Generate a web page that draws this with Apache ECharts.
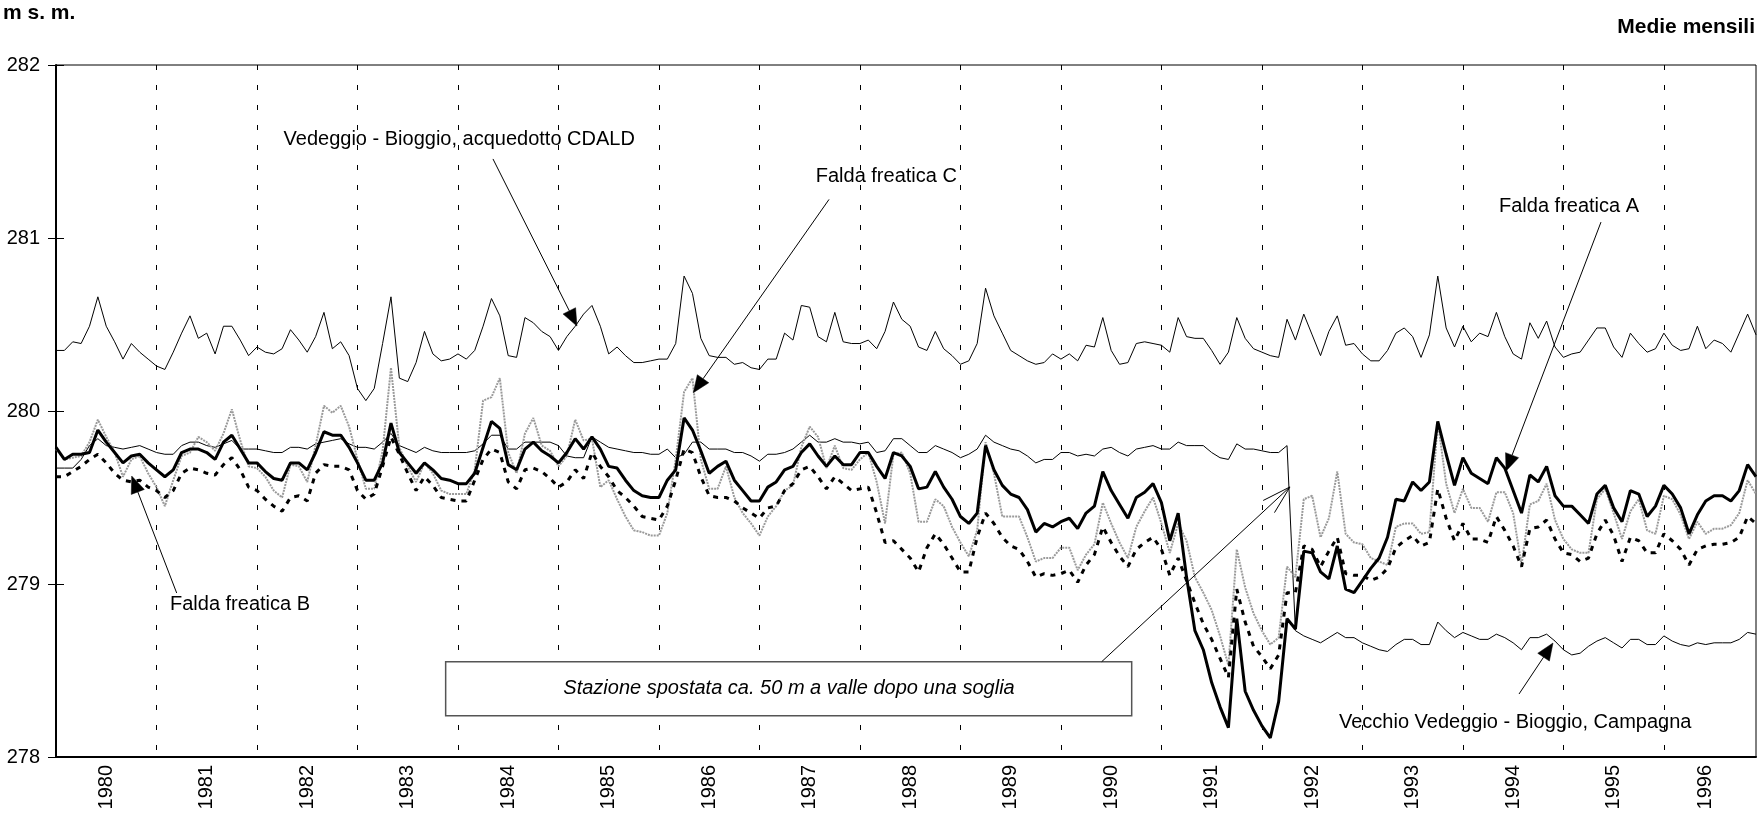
<!DOCTYPE html>
<html>
<head>
<meta charset="utf-8">
<script src="https://cdn.jsdelivr.net/npm/echarts@6/dist/echarts.min.js"></script>
<style>
html,body{margin:0;padding:0;background:#fff;}
#chart{width:1757px;height:822px;}
</style>
</head>
<body>
<div id="chart"></div>
<script>
// ---------- DATA ----------
const years = [1980,1981,1982,1983,1984,1985,1986,1987,1988,1989,1990,1991,1992,1993,1994,1995,1996];
const yTicks = [278, 279, 280, 281, 282];
const months = [];
years.forEach(y => { for (let m = 1; m <= 12; m++) months.push(y + '-' + (m < 10 ? '0' + m : m)); });

// Vedeggio - Bioggio, acquedotto CDALD (monthly means, m s. m.)
const vedeggioCDALD = [
280.35,280.35,280.40,280.39,280.49,280.66,280.49,280.40,280.30,280.39,280.34,280.30,
280.26,280.24,280.34,280.45,280.55,280.42,280.45,280.33,280.49,280.49,280.41,280.32,
280.37,280.34,280.33,280.36,280.47,280.41,280.34,280.43,280.57,280.36,280.40,280.32,
280.13,280.06,280.13,280.39,280.66,280.19,280.17,280.28,280.46,280.33,280.29,280.30,
280.33,280.30,280.35,280.49,280.65,280.55,280.32,280.31,280.54,280.51,280.46,280.43,
280.35,280.43,280.49,280.56,280.61,280.49,280.33,280.37,280.32,280.28,280.28,280.29,
280.30,280.30,280.39,280.78,280.68,280.42,280.32,280.31,280.31,280.27,280.28,280.25,
280.24,280.30,280.30,280.45,280.41,280.61,280.60,280.43,280.40,280.57,280.40,280.39,
280.39,280.41,280.36,280.46,280.63,280.53,280.49,280.37,280.35,280.46,280.36,280.32,
280.27,280.29,280.39,280.71,280.55,280.45,280.35,280.32,280.29,280.27,280.28,280.33,
280.30,280.33,280.29,280.38,280.37,280.54,280.35,280.27,280.28,280.39,280.40,280.39,
280.38,280.34,280.54,280.43,280.42,280.42,280.35,280.27,280.34,280.54,280.42,280.36,
280.34,280.32,280.31,280.53,280.41,280.56,280.44,280.32,280.46,280.55,280.38,280.39,
280.33,280.29,280.29,280.35,280.45,280.48,280.43,280.31,280.44,280.78,280.48,280.37,
280.49,280.40,280.45,280.43,280.57,280.43,280.33,280.30,280.51,280.42,280.52,280.37,
280.31,280.33,280.34,280.41,280.48,280.48,280.37,280.31,280.45,280.39,280.34,280.36,
280.45,280.38,280.35,280.36,280.49,280.36,280.41,280.39,280.34,280.45,280.56,280.44
];

// Vecchio Vedeggio - Bioggio, Campagna
const vecchioCampagna = [
279.67,279.67,279.67,279.72,279.80,279.84,279.80,279.79,279.78,279.79,279.80,279.78,
279.76,279.75,279.75,279.80,279.82,279.82,279.80,279.79,279.81,279.83,279.78,279.78,
279.78,279.77,279.76,279.76,279.79,279.79,279.78,279.81,279.82,279.83,279.84,279.81,
279.79,279.79,279.78,279.82,279.87,279.80,279.78,279.76,279.79,279.77,279.76,279.76,
279.76,279.76,279.77,279.81,279.86,279.86,279.78,279.78,279.82,279.82,279.82,279.82,
279.80,279.74,279.73,279.73,279.85,279.82,279.79,279.78,279.77,279.76,279.76,279.75,
279.75,279.78,279.73,279.75,279.82,279.82,279.78,279.78,279.78,279.76,279.76,279.74,
279.71,279.75,279.75,279.76,279.78,279.82,279.86,279.82,279.82,279.84,279.82,279.82,
279.81,279.82,279.76,279.77,279.84,279.84,279.80,279.76,279.76,279.80,279.78,279.76,
279.73,279.75,279.78,279.86,279.82,279.80,279.78,279.77,279.74,279.70,279.72,279.72,
279.76,279.76,279.74,279.75,279.74,279.78,279.79,279.76,279.74,279.78,279.79,279.80,
279.78,279.78,279.82,279.80,279.80,279.80,279.76,279.73,279.72,279.81,279.78,279.78,
279.77,279.76,279.76,279.80,278.73,278.70,278.68,278.66,278.69,278.72,278.69,278.69,
278.66,278.64,278.62,278.61,278.65,278.68,278.68,278.65,278.65,278.78,278.73,278.69,
278.72,278.70,278.68,278.68,278.71,278.69,278.66,278.62,278.69,278.69,278.71,278.67,
278.62,278.59,278.60,278.64,278.67,278.69,278.66,278.63,278.68,278.68,278.65,278.65,
278.70,278.67,278.65,278.64,278.66,278.65,278.66,278.66,278.66,278.68,278.72,278.71
];

// Falda freatica A
const faldaA = [
279.79,279.72,279.75,279.75,279.76,279.89,279.82,279.76,279.70,279.74,279.75,279.70,
279.66,279.62,279.66,279.76,279.78,279.78,279.76,279.72,279.82,279.86,279.78,279.70,
279.70,279.65,279.61,279.60,279.70,279.70,279.66,279.76,279.88,279.86,279.86,279.79,
279.70,279.60,279.60,279.70,279.93,279.76,279.70,279.64,279.70,279.66,279.61,279.60,
279.58,279.58,279.64,279.79,279.94,279.90,279.69,279.66,279.78,279.82,279.77,279.74,
279.70,279.76,279.84,279.78,279.85,279.78,279.68,279.67,279.60,279.54,279.51,279.50,
279.50,279.60,279.66,279.96,279.89,279.77,279.64,279.68,279.71,279.60,279.54,279.48,
279.48,279.56,279.59,279.66,279.68,279.76,279.81,279.74,279.68,279.74,279.69,279.69,
279.76,279.76,279.68,279.61,279.76,279.74,279.68,279.55,279.56,279.65,279.56,279.49,
279.39,279.35,279.41,279.80,279.66,279.57,279.52,279.50,279.43,279.30,279.35,279.33,
279.36,279.38,279.32,279.41,279.45,279.65,279.54,279.46,279.38,279.50,279.53,279.58,
279.47,279.25,279.41,279.04,278.73,278.62,278.43,278.29,278.17,278.80,278.38,278.27,
278.18,278.11,278.32,278.80,278.74,279.19,279.18,279.07,279.03,279.22,278.97,278.95,
279.02,279.09,279.15,279.27,279.49,279.48,279.59,279.54,279.59,279.94,279.75,279.57,
279.73,279.64,279.61,279.58,279.73,279.67,279.54,279.41,279.63,279.59,279.68,279.51,
279.45,279.45,279.40,279.35,279.52,279.57,279.44,279.36,279.54,279.52,279.39,279.45,
279.57,279.52,279.44,279.29,279.40,279.48,279.51,279.51,279.48,279.54,279.69,279.62
];

// Falda freatica B
const faldaB = [
279.62,279.62,279.65,279.68,279.72,279.75,279.70,279.64,279.60,279.59,279.60,279.56,
279.54,279.50,279.54,279.64,279.67,279.66,279.64,279.63,279.69,279.73,279.66,279.56,
279.54,279.49,279.45,279.42,279.50,279.51,279.48,279.64,279.69,279.68,279.68,279.66,
279.54,279.49,279.52,279.68,279.85,279.75,279.64,279.54,279.62,279.57,279.50,279.49,
279.48,279.48,279.60,279.72,279.78,279.76,279.59,279.55,279.66,279.67,279.65,279.61,
279.56,279.59,279.66,279.61,279.76,279.68,279.62,279.54,279.50,279.45,279.39,279.38,
279.37,279.45,279.60,279.78,279.76,279.62,279.51,279.50,279.50,279.48,279.44,279.41,
279.38,279.44,279.45,279.54,279.58,279.66,279.68,279.62,279.55,279.62,279.58,279.54,
279.55,279.56,279.41,279.24,279.25,279.20,279.15,279.07,279.21,279.29,279.23,279.15,
279.07,279.07,279.27,279.41,279.35,279.27,279.22,279.20,279.13,279.04,279.06,279.05,
279.06,279.08,279.01,279.11,279.17,279.33,279.24,279.16,279.10,279.20,279.24,279.27,
279.20,279.05,279.15,279.02,278.89,278.77,278.68,278.57,278.46,278.97,278.78,278.64,
278.58,278.51,278.59,278.95,278.95,279.22,279.20,279.10,279.19,279.27,279.06,279.05,
279.05,279.02,279.04,279.09,279.21,279.25,279.28,279.22,279.24,279.55,279.38,279.25,
279.35,279.26,279.26,279.24,279.39,279.31,279.22,279.10,279.32,279.33,279.37,279.26,
279.18,279.17,279.13,279.15,279.29,279.37,279.28,279.13,279.27,279.25,279.18,279.18,
279.29,279.25,279.20,279.11,279.20,279.22,279.23,279.23,279.24,279.27,279.39,279.35
];

// Falda freatica C
const faldaC = [
279.78,279.72,279.73,279.74,279.82,279.95,279.85,279.76,279.62,279.72,279.74,279.64,
279.56,279.45,279.60,279.74,279.76,279.85,279.82,279.77,279.87,280.01,279.83,279.68,
279.67,279.62,279.54,279.50,279.69,279.68,279.59,279.80,280.03,279.99,280.03,279.91,
279.72,279.55,279.55,279.77,280.25,279.79,279.68,279.59,279.70,279.64,279.54,279.52,
279.52,279.52,279.66,280.06,280.08,280.19,279.76,279.64,279.87,279.96,279.80,279.77,
279.68,279.74,279.95,279.83,279.84,279.56,279.60,279.49,279.39,279.31,279.30,279.28,
279.28,279.41,279.72,280.11,280.19,279.72,279.55,279.55,279.68,279.50,279.41,279.35,
279.28,279.39,279.45,279.54,279.57,279.79,279.91,279.85,279.67,279.80,279.67,279.66,
279.72,279.76,279.59,279.35,279.75,279.76,279.64,279.36,279.36,279.49,279.45,279.33,
279.24,279.16,279.31,279.82,279.64,279.39,279.39,279.39,279.27,279.13,279.15,279.15,
279.21,279.21,279.08,279.17,279.23,279.47,279.35,279.24,279.15,279.33,279.42,279.50,
279.35,279.18,279.35,279.25,279.04,278.95,278.85,278.70,278.53,279.20,278.98,278.83,
278.73,278.65,278.69,279.10,279.04,279.49,279.51,279.27,279.38,279.65,279.29,279.24,
279.23,279.15,279.13,279.11,279.33,279.35,279.35,279.29,279.30,279.94,279.58,279.41,
279.55,279.44,279.44,279.36,279.53,279.53,279.41,279.11,279.46,279.48,279.58,279.37,
279.26,279.20,279.18,279.18,279.49,279.55,279.41,279.26,279.42,279.49,279.31,279.29,
279.51,279.49,279.40,279.26,279.36,279.29,279.32,279.32,279.34,279.41,279.60,279.52
];

// ---------- ANNOTATIONS (anchored in data space: [month index, m s. m.]) ----------
const noteLabels = [
  { text: 'Vedeggio - Bioggio, acquedotto CDALD', at: [27.17, 281.572] },
  { text: 'Falda freatica C', at: [90.72, 281.358] },
  { text: 'Falda freatica A', at: [172.31, 281.185] },
  { text: 'Falda freatica B', at: [13.61, 278.879] },
  { text: 'Vecchio Vedeggio - Bioggio, Campagna', at: [153.2, 278.197] }
];
const noteArrows = [
  { from: [52.18, 281.457], to: [62.21, 280.491] },
  { from: [92.31, 281.223], to: [76.10, 280.106] },
  { from: [184.49, 281.092], to: [173.15, 279.653] },
  { from: [14.41, 278.948], to: [9.04, 279.624] },
  { from: [174.70, 278.364], to: [178.76, 278.659] }
];
const boxNote = {
  text: 'Stazione spostata ca. 50 m a valle dopo una soglia',
  topLeft: [46.53, 278.551], bottomRight: [128.45, 278.239], center: [87.53, 278.399],
  pointerFrom: [124.87, 278.551], pointerTo: [147.35, 279.561]
};

// ---------- CHART ----------
const FONT = "'Liberation Sans', Arial, sans-serif";
const chart = echarts.init(document.getElementById('chart'), null, { renderer: 'canvas' });

const option = {
  animation: false,
  backgroundColor: '#ffffff',
  grid: {
    left: 56, top: 65, right: 1, bottom: 65,
    show: true, borderColor: '#000', borderWidth: 1, backgroundColor: 'transparent',
    containLabel: false, outerBoundsMode: 'none'
  },
  xAxis: [
    {
      type: 'category',
      data: months,
      boundaryGap: false,
      axisLine: { show: true, lineStyle: { color: '#000', width: 2 } },
      axisTick: { show: false },
      axisLabel: {
        interval: function (idx) { return (idx % 12 === 6 && idx < 192) || idx === 197; },
        formatter: function (v) { return v.slice(0, 4); },
        rotate: 90, margin: 8,
        color: '#000', fontSize: 20, fontFamily: FONT
      },
      splitLine: { show: true, interval: 11, lineStyle: { color: '#000', width: 1, type: [5, 15] } }
    },
    { type: 'value', min: 0, max: 203, show: false, gridIndex: 0 }
  ],
  yAxis: [
    {
      type: 'value', min: yTicks[0], max: yTicks[yTicks.length - 1], interval: 1, position: 'left',
      axisLine: { show: true, lineStyle: { color: '#000', width: 2 } },
      axisTick: { show: true, inside: false, length: 8, lineStyle: { color: '#000', width: 1 } },
      axisLabel: { color: '#000', fontSize: 20, fontFamily: FONT, margin: 16 },
      splitLine: { show: false }
    },
    {
      type: 'value', min: yTicks[0], max: yTicks[yTicks.length - 1], interval: 1, position: 'left',
      axisLine: { show: false },
      axisTick: { show: true, inside: true, length: 8, lineStyle: { color: '#000', width: 1 } },
      axisLabel: { show: false },
      splitLine: { show: false }
    }
  ],
  series: [
    { name: 'Vedeggio - Bioggio, acquedotto CDALD', type: 'line', data: vedeggioCDALD, showSymbol: false, symbol: 'none',
      lineStyle: { color: '#000', width: 1 }, z: 3 },
    { name: 'Vecchio Vedeggio - Bioggio, Campagna', type: 'line', data: vecchioCampagna, showSymbol: false, symbol: 'none',
      lineStyle: { color: '#000', width: 1 }, z: 3 },
    { name: 'Falda freatica C', type: 'line', data: faldaC, showSymbol: false, symbol: 'none',
      lineStyle: { color: '#9a9a9a', width: 2, type: [2, 1] }, z: 4 },
    { name: 'Falda freatica B', type: 'line', data: faldaB, showSymbol: false, symbol: 'none',
      lineStyle: { color: '#000', width: 3, type: [5, 6] }, z: 5 },
    { name: 'Falda freatica A', type: 'line', data: faldaA, showSymbol: false, symbol: 'none',
      lineStyle: { color: '#000', width: 3 }, z: 6 }
  ]
};
chart.setOption(option);

// ---------- ANNOTATION GRAPHICS ----------
function P(p) { return chart.convertToPixel({ xAxisIndex: 1, yAxisIndex: 0 }, p); }
function txt(text, x, y, opts) {
  opts = opts || {};
  return {
    type: 'text', z: 100, x: 0, y: 0,
    style: {
      text: text, x: x, y: y,
      font: (opts.weight || 'normal') + ' ' + (opts.style || 'normal') + ' ' + (opts.size || 20) + 'px ' + FONT,
      fontStyle: opts.style || 'normal', fontWeight: opts.weight || 'normal',
      fontSize: opts.size || 20, fontFamily: FONT,
      fill: '#000',
      align: opts.align || 'left', textAlign: opts.align || 'left',
      verticalAlign: 'middle', textVerticalAlign: 'middle'
    }
  };
}
const g = [];
// headers
g.push(txt('m s. m.', 3, 13, { weight: 'bold', size: 21 }));
g.push(txt('Medie mensili', 1755, 27, { weight: 'bold', size: 21, align: 'right' }));

noteLabels.forEach(function (n) {
  const p = P(n.at);
  g.push(txt(n.text, p[0], p[1]));
});
noteArrows.forEach(function (a) {
  const s = P(a.from), t = P(a.to);
  const dx = t[0] - s[0], dy = t[1] - s[1], len = Math.hypot(dx, dy);
  const ux = dx / len, uy = dy / len, L = 17, W = 7;
  const bx = t[0] - ux * L, by = t[1] - uy * L;
  g.push({ type: 'line', z: 100, shape: { x1: s[0], y1: s[1], x2: bx, y2: by }, style: { stroke: '#000', lineWidth: 1 } });
  g.push({ type: 'polygon', z: 101, shape: { points: [[t[0], t[1]], [bx - uy * W, by + ux * W], [bx + uy * W, by - ux * W]] },
           style: { fill: '#000', stroke: '#000', lineWidth: 0.5 } });
});
// box
(function () {
  const a = P(boxNote.topLeft), b = P(boxNote.bottomRight), c = P(boxNote.center);
  g.push({ type: 'rect', z: 90, shape: { x: a[0], y: a[1], width: b[0] - a[0], height: b[1] - a[1] },
           style: { fill: '#fff', stroke: '#555', lineWidth: 1.5 } });
  g.push(txt(boxNote.text, c[0], c[1], { style: 'italic', align: 'center' }));
  const s = P(boxNote.pointerFrom), t = P(boxNote.pointerTo);
  g.push({ type: 'line', z: 100, shape: { x1: s[0], y1: s[1], x2: t[0], y2: t[1] }, style: { stroke: '#000', lineWidth: 1 } });
  const ang = Math.atan2(s[1] - t[1], s[0] - t[0]);
  [-0.28, 0.28].forEach(function (d) {
    const ex = t[0] + Math.cos(ang + d) * 30, ey = t[1] + Math.sin(ang + d) * 30;
    g.push({ type: 'line', z: 100, shape: { x1: t[0], y1: t[1], x2: ex, y2: ey }, style: { stroke: '#000', lineWidth: 1 } });
  });
})();
chart.setOption({ graphic: { elements: g } });
</script>
</body>
</html>
